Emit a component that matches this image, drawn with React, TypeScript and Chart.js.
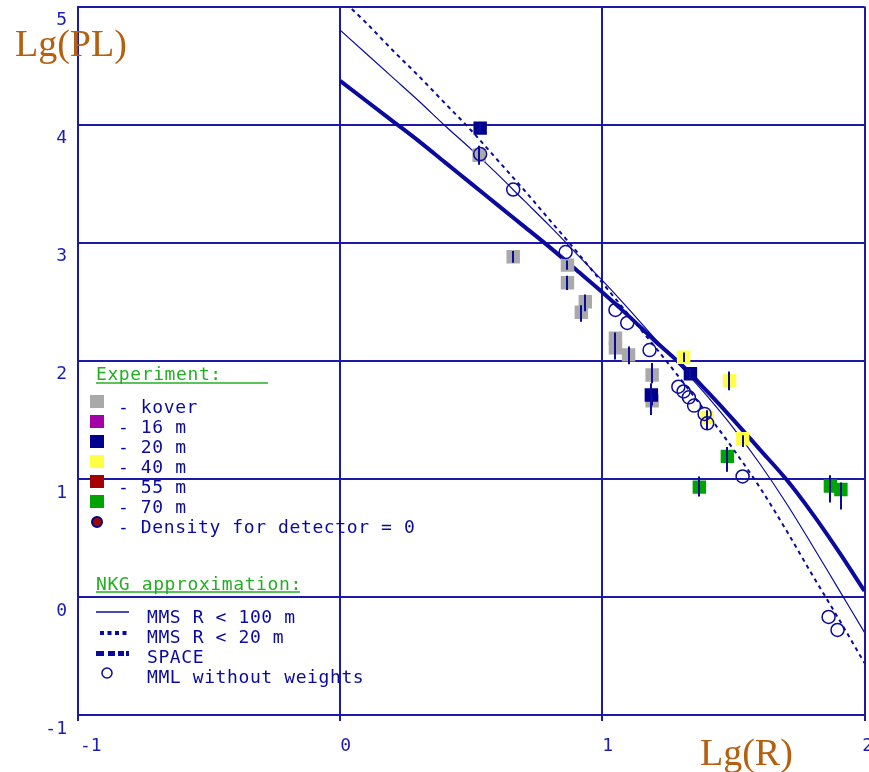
import React, { useEffect, useRef } from 'react';
import { Chart, registerables } from 'chart.js';

Chart.register(...registerables);

// ---- Data ----
const curveX = [0, 0.1, 0.2, 0.3, 0.4, 0.5, 0.6, 0.7, 0.8, 0.9, 1.0, 1.1, 1.2, 1.3, 1.4, 1.5, 1.6, 1.7, 1.8, 1.9, 2.0];
const spaceY = [4.37, 4.2, 4.03, 3.86, 3.68, 3.5, 3.32, 3.14, 2.96, 2.77, 2.58, 2.38, 2.17, 1.97, 1.74, 1.5, 1.25, 1.0, 0.71, 0.39, 0.05];
const mms100Y = [4.8, 4.6, 4.4, 4.2, 3.99, 3.79, 3.58, 3.36, 3.14, 2.91, 2.68, 2.44, 2.19, 1.95, 1.7, 1.43, 1.13, 0.8, 0.44, 0.07, -0.3];
const mms20Y = [5.07, 4.86, 4.63, 4.41, 4.18, 3.95, 3.7, 3.45, 3.19, 2.93, 2.66, 2.39, 2.12, 1.84, 1.55, 1.25, 0.93, 0.57, 0.19, -0.18, -0.56];

const koverX = [0.53, 0.66, 0.867, 0.867, 0.935, 0.92, 1.05, 1.05, 1.1, 1.19, 1.19];
const koverY = [3.74, 2.88, 2.81, 2.66, 2.5, 2.41, 2.19, 2.11, 2.05, 1.88, 1.66];
const koverLo = [3.66, 2.83, 2.77, 2.6, 2.42, 2.33, 2.01, 2.08, 1.97, 1.81, 1.62];
const koverHi = [3.82, 2.93, 2.85, 2.72, 2.56, 2.47, 2.24, 2.14, 2.12, 1.98, 1.7];

const m20X = [0.534, 1.187, 1.336];
const m20Y = [3.97, 1.71, 1.89];
const m20Lo = [3.93, 1.54, 1.85];
const m20Hi = [4.01, 1.81, 1.93];

const m40X = [1.31, 1.485, 1.4, 1.535];
const m40Y = [2.03, 1.83, 1.52, 1.34];
const m40Lo = [1.99, 1.75, 1.42, 1.27];
const m40Hi = [2.07, 1.91, 1.58, 1.37];

const m70X = [1.477, 1.37, 1.87, 1.91];
const m70Y = [1.19, 0.93, 0.94, 0.91];
const m70Lo = [1.06, 0.85, 0.8, 0.74];
const m70Hi = [1.27, 1.02, 1.03, 0.97];

const mmlX = [0.534, 0.66, 0.86, 1.05, 1.095, 1.18, 1.29, 1.31, 1.33, 1.35, 1.39, 1.4, 1.535, 1.863, 1.897];
const mmlY = [3.75, 3.45, 2.92, 2.43, 2.32, 2.09, 1.78, 1.74, 1.69, 1.62, 1.55, 1.47, 1.02, -0.17, -0.28];

const xTicks = [-1, 0, 1, 2];
const yTicks = [-1, 0, 1, 2, 3, 4, 5];

const experimentLabels = ['kover', '16 m', '20 m', '40 m', '55 m', '70 m'];
const nkgLabels = ['MMS R < 100 m', 'MMS R < 20 m', 'SPACE', 'MML without weights'];

// ---- Styles ----
const NAVY = '#0a0a9e';
const GRID = '#1a1aa6';
const TICK_TEXT = '#1c1cb4';
const TITLE = '#b4600e';
const GREEN_TEXT = '#22b022';
const C_GRAY = '#a9a9a9';
const C_MAGENTA = '#a400a8';
const C_BLUE = '#00008e';
const C_YELLOW = '#ffff44';
const C_RED = '#a40000';
const C_GREEN = '#00a400';
const MONO = '18px "DejaVu Sans Mono", monospace';
const PAGE_W = 869;
const PAGE_H = 772;
const SHIFT_Y = 3; // canvas is shifted up by this much inside the page frame

const pts = (xs: number[], ys: number[]) => xs.map((x, i) => ({ x, y: ys[i] }));

const errorGroups = [
  { xs: koverX, lo: koverLo, hi: koverHi },
  { xs: m20X, lo: m20Lo, hi: m20Hi },
  { xs: m40X, lo: m40Lo, hi: m40Hi },
  { xs: m70X, lo: m70Lo, hi: m70Hi },
];

const errorBarPlugin = {
  id: 'errorBars',
  afterDatasetsDraw(chart: any) {
    const { ctx, scales } = chart;
    const xs = scales.x;
    const ys = scales.y;
    ctx.save();
    ctx.strokeStyle = NAVY;
    ctx.lineWidth = 2;
    for (const g of errorGroups) {
      g.xs.forEach((xv: number, i: number) => {
        const px = Math.round(xs.getPixelForValue(xv));
        ctx.beginPath();
        ctx.moveTo(px, ys.getPixelForValue(g.lo[i]));
        ctx.lineTo(px, ys.getPixelForValue(g.hi[i]));
        ctx.stroke();
      });
    }
    ctx.restore();
  },
};

const decorPlugin = {
  id: 'decor',
  afterDraw(chart: any) {
    const { ctx, scales } = chart;
    const xs = scales.x;
    const ys = scales.y;
    ctx.save();
    // tick labels (scale pixels are canvas coordinates)
    ctx.font = MONO;
    ctx.fillStyle = TICK_TEXT;
    ctx.textBaseline = 'middle';
    ctx.textAlign = 'right';
    for (const v of yTicks) {
      ctx.fillText(String(v), 67, ys.getPixelForValue(v) + 14);
    }
    // everything below uses page coordinates
    ctx.translate(0, SHIFT_Y);
    ctx.textAlign = 'left';
    for (const v of xTicks) {
      const w = ctx.measureText(String(v)).width;
      let px = xs.getPixelForValue(v) + (v < 0 ? 2 : 0);
      if (px + w > PAGE_W) px = PAGE_W - w + 4;
      ctx.fillText(String(v), px, 746);
    }
    // axis titles
    ctx.font = '38px "Liberation Serif", "Times New Roman", serif';
    ctx.fillStyle = TITLE;
    ctx.textBaseline = 'alphabetic';
    ctx.fillText('Lg(PL)', 15, 56);
    ctx.fillText('Lg(R)', 700, 765);

    // legend: Experiment
    ctx.font = MONO;
    (ctx as any).letterSpacing = '0.6px';
    ctx.textBaseline = 'middle';
    ctx.fillStyle = GREEN_TEXT;
    ctx.fillText('Experiment:', 96, 375);
    ctx.strokeStyle = GREEN_TEXT;
    ctx.lineWidth = 1.5;
    ctx.beginPath();
    ctx.moveTo(96, 383);
    ctx.lineTo(268, 383);
    ctx.stroke();

    const sqColors = [C_GRAY, C_MAGENTA, C_BLUE, C_YELLOW, C_RED, C_GREEN];
    experimentLabels.forEach((lab, i) => {
      const cy = 408 + i * 20;
      ctx.fillStyle = sqColors[i];
      ctx.fillRect(90, cy - 13, 14, 13);
      ctx.fillStyle = NAVY;
      ctx.fillText('- ' + lab, 118, cy);
    });
    // density marker
    ctx.beginPath();
    ctx.arc(97, 522, 5, 0, Math.PI * 2);
    ctx.fillStyle = '#9a0808';
    ctx.fill();
    ctx.strokeStyle = '#000080';
    ctx.lineWidth = 2;
    ctx.stroke();
    ctx.fillStyle = NAVY;
    ctx.fillText('- Density for detector = 0', 118, 528);

    // legend: NKG
    ctx.fillStyle = GREEN_TEXT;
    ctx.fillText('NKG approximation:', 96, 585);
    ctx.strokeStyle = GREEN_TEXT;
    ctx.lineWidth = 1.5;
    ctx.beginPath();
    ctx.moveTo(96, 592);
    ctx.lineTo(300, 592);
    ctx.stroke();

    ctx.fillStyle = NAVY;
    nkgLabels.forEach((lab, i) => {
      ctx.fillText(lab, 147, 618 + i * 20);
    });
    ctx.strokeStyle = NAVY;
    // solid thin
    ctx.lineWidth = 1.5;
    ctx.beginPath();
    ctx.moveTo(96, 612);
    ctx.lineTo(129, 612);
    ctx.stroke();
    // dotted
    ctx.fillStyle = NAVY;
    for (let k = 0; k < 4; k++) ctx.fillRect(100 + k * 7.5, 631, 4, 4);
    // thick dashed
    ctx.fillRect(96, 651, 8, 5);
    ctx.fillRect(108, 651, 7, 5);
    ctx.fillRect(118, 651, 6, 5);
    ctx.fillRect(126, 651, 3, 5);
    // circle
    ctx.lineWidth = 1.5;
    ctx.beginPath();
    ctx.arc(107, 673, 5, 0, Math.PI * 2);
    ctx.stroke();
    ctx.restore();
  },
};

export default function App() {
  const ref = useRef<HTMLCanvasElement | null>(null);

  useEffect(() => {
    document.body.style.margin = '0';
    const canvas = ref.current;
    if (!canvas) return;
    const squareDs = (label: string, xs: number[], ys: number[], color: string, order: number) => ({
      type: 'scatter' as const,
      label,
      data: pts(xs, ys),
      pointStyle: 'rect',
      pointRadius: 9.5,
      pointBackgroundColor: color,
      pointBorderColor: color,
      pointBorderWidth: 0,
      showLine: false,
      order,
    });
    const lineDs = (label: string, ys: number[], width: number, dash: number[], order: number) => ({
      type: 'line' as const,
      label,
      data: pts(curveX, ys),
      borderColor: NAVY,
      borderWidth: width,
      borderDash: dash,
      pointRadius: 0,
      fill: false,
      cubicInterpolationMode: 'monotone',
      order,
    });
    const chart = new Chart(canvas, {
      type: 'scatter',
      data: {
        datasets: [
          {
            type: 'scatter',
            label: 'MML without weights',
            data: pts(mmlX, mmlY),
            pointStyle: 'circle',
            pointRadius: 6.5,
            pointBackgroundColor: 'rgba(0,0,0,0)',
            pointBorderColor: NAVY,
            pointBorderWidth: 1.5,
            order: 1,
          },
          squareDs('20 m', m20X, m20Y, C_BLUE, 2),
          squareDs('40 m', m40X, m40Y, C_YELLOW, 2),
          squareDs('70 m', m70X, m70Y, C_GREEN, 2),
          squareDs('kover', koverX, koverY, C_GRAY, 3),
          lineDs('SPACE', spaceY, 4, [], 4),
          lineDs('MMS R < 100 m', mms100Y, 1.2, [], 4),
          lineDs('MMS R < 20 m', mms20Y, 2, [4, 4], 4),
        ] as any,
      },
      options: {
        animation: false,
        responsive: false,
        devicePixelRatio: 1,
        events: [],
        layout: { padding: { left: 78, top: 4, right: 0, bottom: 51 } },
        plugins: { legend: { display: false }, tooltip: { enabled: false } },
        scales: {
          x: {
            type: 'linear',
            min: -1,
            max: 2,
            ticks: { display: false, stepSize: 1 },
            grid: { color: GRID, lineWidth: 2, drawTicks: true, tickLength: 6, tickColor: GRID },
            border: { color: GRID, width: 2 },
          },
          y: {
            type: 'linear',
            min: -1,
            max: 5,
            ticks: { display: false, stepSize: 1 },
            grid: { color: GRID, lineWidth: 2, drawTicks: false },
            border: { color: GRID, width: 2 },
          },
        },
      },
      plugins: [errorBarPlugin, decorPlugin],
    });
    return () => chart.destroy();
  }, []);

  return (
    <div style={{ position: 'relative', width: PAGE_W, height: PAGE_H, overflow: 'hidden', background: '#fff' }}>
      <canvas
        ref={ref}
        width={PAGE_W + 5}
        height={PAGE_H + SHIFT_Y}
        style={{ display: 'block', position: 'absolute', left: 0, top: -SHIFT_Y }}
      />
    </div>
  );
}
